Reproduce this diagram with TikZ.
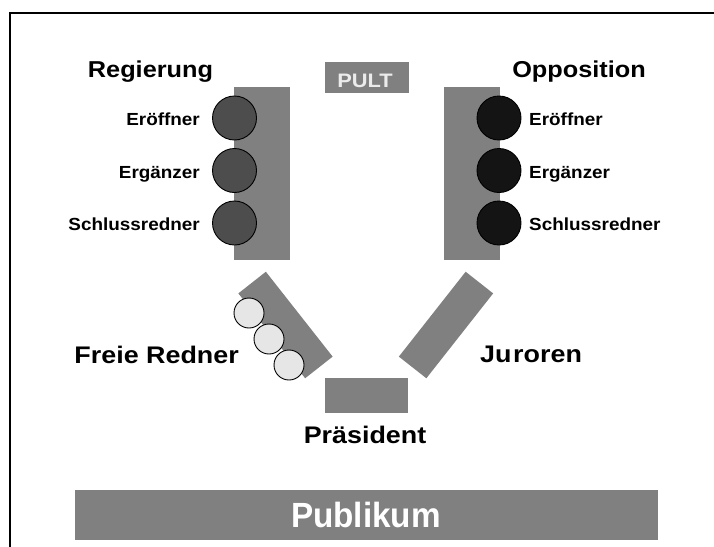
\documentclass[tikz,border=0pt]{standalone}
\usepackage{fontspec}
\setmainfont{Liberation Sans}
\usepackage{graphicx}
\newcommand{\sx}[2][1.08]{\scalebox{#1}[1]{#2}}
\definecolor{barg}{HTML}{808080}
\definecolor{darkL}{HTML}{4D4D4D}
\definecolor{darkR}{HTML}{141414}
\definecolor{lightc}{HTML}{E6E6E6}
\definecolor{pulttxt}{HTML}{EBEBEB}
\begin{document}
\begin{tikzpicture}[x=1pt,y=-1pt,
  bar/.style={rectangle, fill=barg, draw=none, inner sep=0pt, outer sep=0pt},
  seat/.style={circle, draw=black, line width=0.9pt, inner sep=0pt, minimum size=44pt},
  free/.style={circle, draw=black, line width=0.9pt, fill=lightc, inner sep=0pt, minimum size=30pt},
  big/.style={inner sep=0pt, font=\bfseries\fontsize{23}{26}\selectfont},
  small/.style={inner sep=0pt, font=\bfseries\fontsize{17.5}{20}\selectfont},
  mid/.style={inner sep=0pt, font=\bfseries\fontsize{24}{27}\selectfont}]
\clip (0,0) rectangle (714,546);
\fill[white] (0,0) rectangle (714,546);
\draw[line width=2pt] (10,13) rectangle (740,570);

% benches
\node[bar, minimum width=56pt, minimum height=173pt] (regbank) at (262,173.5) {};
\node[bar, minimum width=56pt, minimum height=173pt] (oppbank) at (472,173.5) {};
\node[bar, minimum width=84pt, minimum height=31pt] (pult) at (367,77.5) {};
\node[bar, minimum width=108pt, minimum height=35pt, rotate=-51.8] (freibank) at (285.5,325) {};
\node[bar, minimum width=108pt, minimum height=35pt, rotate=51.8] (jurybank) at (446,325) {};
\node[bar, minimum width=83pt, minimum height=35pt] (praes) at (366.5,395.5) {};
\node[bar, minimum width=583pt, minimum height=50pt] (publ) at (366.5,515) {};

% seats
\node[seat, fill=darkL] (r1) at (234.5,118) {};
\node[seat, fill=darkL] (r2) at (234.5,170.5) {};
\node[seat, fill=darkL] (r3) at (234.5,223) {};
\node[seat, fill=darkR] (o1) at (499,118) {};
\node[seat, fill=darkR] (o2) at (499,170.5) {};
\node[seat, fill=darkR] (o3) at (499,223) {};
\node[free] (f1) at (249,313) {};
\node[free] (f2) at (269,339) {};
\node[free] (f3) at (289,365) {};

% labels
\node[big, anchor=base] (treg) at (150.5,77) {\sx[1.1]{Regierung}};
\node[big, anchor=base] (topp) at (579,77) {\sx[1.1]{Opposition}};
\node[inner sep=0pt, anchor=base, text=pulttxt, font=\bfseries\fontsize{19.5}{22}\selectfont] (tpult) at (365,87) {\sx[1.12]{PULT}};
\node[small, anchor=base east] (tr1) at (200,125.5) {\sx{Eröffner}};
\node[small, anchor=base east] (tr2) at (200,178) {\sx{Ergänzer}};
\node[small, anchor=base east] (tr3) at (200,230) {\sx{Schlussredner}};
\node[small, anchor=base west] (to1) at (529,125.5) {\sx{Eröffner}};
\node[small, anchor=base west] (to2) at (529,178) {\sx{Ergänzer}};
\node[small, anchor=base west] (to3) at (529,230) {\sx{Schlussredner}};
\node[mid, anchor=base east] (tfrei) at (239,363) {\sx[1.12]{Freie Redner}};
\node[mid, anchor=base west] (tjury) at (480,362) {\sx[1.12]{Ju\kern1.5pt roren}};
\node[mid, anchor=base] (tpraes) at (365,443) {\sx[1.12]{Präsident}};
\node[inner sep=0pt, anchor=base, text=white, font=\bfseries\fontsize{35}{38}\selectfont] (tpubl) at (366,527) {\sx[0.95]{Publikum}};
\end{tikzpicture}
\end{document}
